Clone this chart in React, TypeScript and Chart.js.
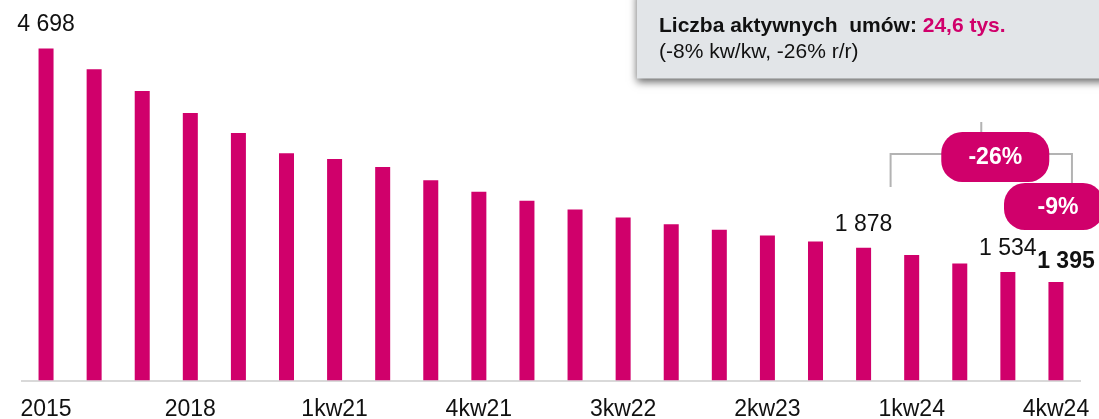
import { useEffect, useRef } from "react";
import { Chart, registerables } from "chart.js";

Chart.register(...registerables);

const categories = [
  "2015", "2016", "2017", "2018", "2019", "2020",
  "1kw21", "2kw21", "3kw21", "4kw21",
  "1kw22", "2kw22", "3kw22", "4kw22",
  "1kw23", "2kw23", "3kw23", "4kw23",
  "1kw24", "2kw24", "3kw24", "4kw24",
];
const contracts = [
  4698, 4405, 4094, 3785, 3500, 3215, 3135, 3020, 2834, 2670, 2542,
  2419, 2305, 2211, 2131, 2050, 1965, 1878, 1776, 1655, 1534, 1395,
];
const tickLabels = [
  "2015", "", "", "2018", "", "", "1kw21", "", "", "4kw21", "", "",
  "3kw22", "", "", "2kw23", "", "", "1kw24", "", "", "4kw24",
];
const labelledIndexes = [0, 17, 20, 21];
const boldIndex = 21;
const yearChange = "-26%";
const quarterChange = "-9%";
const boxTitle = "Liczba aktywnych  umów:";
const boxValue = "24,6 tys.";
const boxSubtitle = "(-8% kw/kw, -26% r/r)";

const MAGENTA = "#d0006b";
const FONT = '"Liberation Sans", Arial, sans-serif';

const fmt = (v: number) => String(v).replace(/\B(?=(\d{3})+(?!\d))/g, " ");

const annotations = {
  id: "annotations",
  afterDatasetsDraw(chart: any) {
    const ctx: CanvasRenderingContext2D = chart.ctx;
    const meta = chart.getDatasetMeta(0);
    ctx.save();

    // value labels
    ctx.textAlign = "center";
    ctx.textBaseline = "alphabetic";
    labelledIndexes.forEach((i) => {
      const bar = meta.data[i];
      const bold = i === boldIndex;
      ctx.font = `${bold ? "bold " : ""}23px ${FONT}`;
      ctx.fillStyle = "#111111";
      ctx.fillText(fmt(contracts[i]), bar.x + (bold ? 10 : 0), bar.y - (bold ? 14 : 17));
    });

    // bracket
    const xs = chart.scales.x;
    const leftLeg = xs.getPixelForValue(17) + 27;
    const rightLeg = xs.getPixelForValue(21) + 16;
    const pillCx = (leftLeg + rightLeg) / 2 + 14;
    ctx.strokeStyle = "#b3b3b3";
    ctx.lineWidth = 2;
    ctx.beginPath();
    ctx.moveTo(leftLeg, 187);
    ctx.lineTo(leftLeg, 154);
    ctx.lineTo(rightLeg, 154);
    ctx.lineTo(rightLeg, 184);
    ctx.moveTo(pillCx - 14, 122);
    ctx.lineTo(pillCx - 14, 134);
    ctx.stroke();

    // pills
    const pill = (x: number, y: number, w: number, h: number, text: string, tx: number) => {
      ctx.fillStyle = MAGENTA;
      ctx.beginPath();
      (ctx as any).roundRect(x, y, w, h, 21);
      ctx.fill();
      ctx.fillStyle = "#ffffff";
      ctx.font = `bold 23px ${FONT}`;
      ctx.textAlign = "center";
      ctx.textBaseline = "middle";
      ctx.fillText(text, tx, y + h / 2 + 1);
    };
    pill(pillCx - 54, 132, 108, 50, yearChange, pillCx);
    pill(1004, 183, 100, 47, quarterChange, 1058);

    // info box
    ctx.save();
    ctx.shadowColor = "rgba(0,0,0,0.6)";
    ctx.shadowBlur = 8;
    ctx.shadowOffsetX = 0;
    ctx.shadowOffsetY = 3;
    ctx.fillStyle = "#e2e5e8";
    ctx.fillRect(637, -10, 480, 88.5);
    ctx.restore();

    ctx.textAlign = "left";
    ctx.textBaseline = "alphabetic";
    ctx.font = `bold 21px ${FONT}`;
    ctx.fillStyle = "#111111";
    const titleText = boxTitle + " ";
    ctx.fillText(titleText, 659, 31.5);
    const tw = ctx.measureText(titleText).width;
    ctx.fillStyle = MAGENTA;
    ctx.fillText(boxValue, 659 + tw, 31.5);
    ctx.font = `21px ${FONT}`;
    ctx.fillStyle = "#111111";
    ctx.fillText(boxSubtitle, 659, 58);

    ctx.restore();
  },
};

export default function App() {
  const ref = useRef<HTMLCanvasElement>(null);

  useEffect(() => {
    document.body.style.margin = "0";
    const chart = new Chart(ref.current!, {
      type: "bar",
      data: {
        labels: categories,
        datasets: [
          {
            data: contracts,
            backgroundColor: MAGENTA,
            barPercentage: 0.312,
            categoryPercentage: 1,
          },
        ],
      },
      options: {
        animation: false,
        responsive: false,
        devicePixelRatio: 1,
        layout: { padding: { top: 20, left: 22, right: 19, bottom: 0 } },
        plugins: { legend: { display: false }, tooltip: { enabled: false } },
        scales: {
          x: {
            grid: { display: false, drawTicks: false },
            border: { display: true, color: "#d9d9d9", width: 2 },
            ticks: {
              autoSkip: false,
              maxRotation: 0,
              padding: 20,
              color: "#111111",
              font: { family: FONT, size: 23, lineHeight: 0.8 },
              callback: (_v: any, i: number) => tickLabels[i],
            },
            afterFit: (scale: any) => {
              scale.height = 38.5;
              scale.paddingLeft = 0;
              scale.paddingRight = 0;
            },
          },
          y: { display: false, min: 0, max: 5100 },
        },
      },
      plugins: [annotations],
    });
    return () => chart.destroy();
  }, []);

  return (
    <div style={{ position: "fixed", left: 0, top: 0, width: 1099, height: 419, background: "#fff" }}>
      <canvas ref={ref} width={1099} height={419} />
    </div>
  );
}
